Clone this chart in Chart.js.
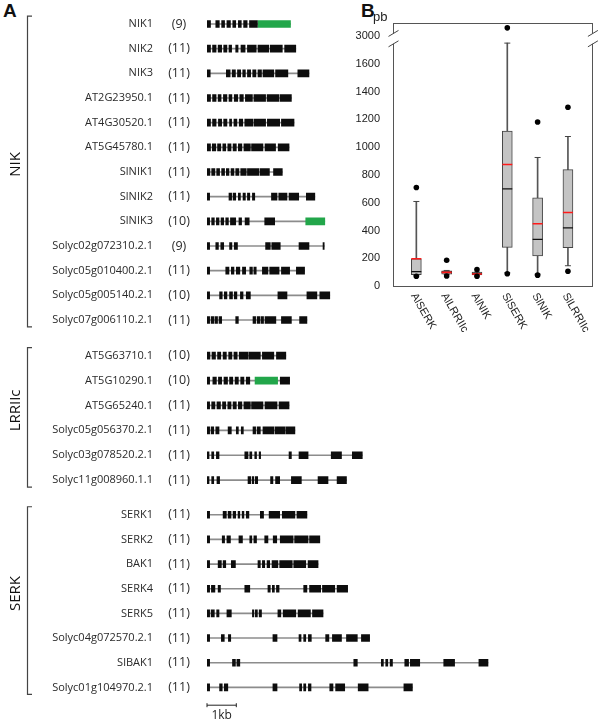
<!DOCTYPE html>
<html>
<head>
<meta charset="utf-8">
<title>Gene structure and intron length</title>
<script src="https://cdn.jsdelivr.net/npm/chart.js@4.4.1/dist/chart.umd.min.js"></script>
<style>
    body { margin: 0; background: #fff; }
    #wrap { position: relative; width: 600px; height: 721px; overflow: hidden; }
    #wrap canvas { position: absolute; }
    .panel { position: absolute; font-family: "Liberation Sans", Arial, sans-serif; font-weight: bold; font-size: 19px; color: #111; }
</style>
</head>
<body>
<div id="wrap">
    <div class="panel" style="left:3px;top:0px">A</div>
    <div class="panel" style="left:361px;top:0px">B</div>
    <canvas id="nikChart" width="500" height="340" style="left:0;top:0"></canvas>
    <canvas id="lrrChart" width="500" height="160" style="left:0;top:340px"></canvas>
    <canvas id="serkChart" width="500" height="221" style="left:0;top:500px"></canvas>
    <canvas id="boxChart" width="260" height="345" style="left:340px;top:0"></canvas>
</div>
<script>
// ---- Painel A: estrutura dos genes (exões em kb) ----
const nikNames = ['NIK1', 'NIK2', 'NIK3', 'AT2G23950.1', 'AT4G30520.1', 'AT5G45780.1', 'SlNIK1', 'SlNIK2', 'SlNIK3',
    'Solyc02g072310.2.1', 'Solyc05g010400.2.1', 'Solyc05g005140.2.1', 'Solyc07g006110.2.1'];
const nikCounts = [9, 11, 11, 11, 11, 11, 11, 11, 10, 9, 11, 10, 11];
const nikExons = [
    [[0,0.12],[0.3,0.42],[0.5,0.6],[0.68,0.8],[0.88,0.98],[1.07,1.17],[1.25,1.37],[1.45,1.72],[1.74,2.85]],
    [[0,0.12],[0.19,0.31],[0.38,0.5],[0.57,0.68],[0.75,0.84],[0.98,1.06],[1.16,1.3],[1.38,1.68],[1.74,2.11],[2.16,2.57],[2.65,3.03]],
    [[0,0.11],[0.66,0.79],[0.86,0.97],[1.04,1.15],[1.22,1.31],[1.38,1.49],[1.56,1.67],[1.74,1.86],[1.91,2.28],[2.34,2.76],[3.1,3.48]],
    [[0,0.12],[0.19,0.31],[0.38,0.48],[0.56,0.68],[0.75,0.85],[0.93,1.05],[1.12,1.24],[1.31,1.55],[1.6,2.0],[2.05,2.46],[2.5,2.88]],
    [[0,0.12],[0.19,0.31],[0.39,0.5],[0.57,0.68],[0.77,0.84],[0.92,1.02],[1.1,1.22],[1.29,1.56],[1.6,2.0],[2.06,2.48],[2.54,2.97]],
    [[0,0.12],[0.18,0.3],[0.36,0.47],[0.54,0.64],[0.71,0.82],[0.89,1.0],[1.07,1.19],[1.26,1.48],[1.52,1.91],[1.98,2.34],[2.43,2.8]],
    [[0,0.1],[0.16,0.27],[0.33,0.43],[0.5,0.6],[0.66,0.75],[0.82,0.92],[0.98,1.09],[1.15,1.34],[1.38,1.77],[1.81,2.13],[2.27,2.57]],
    [[0,0.09],[0.75,0.84],[0.89,0.98],[1.07,1.14],[1.23,1.31],[1.38,1.46],[1.55,1.63],[2.2,2.39],[2.45,2.73],[2.8,3.13],[3.39,3.68]],
    [[0,0.09],[0.16,0.25],[0.32,0.41],[0.48,0.57],[0.64,0.73],[0.8,0.98],[1.09,1.18],[1.3,1.44],[1.97,2.31],[3.37,4.02]],
    [[0,0.09],[0.3,0.39],[0.47,0.57],[0.77,0.85],[0.93,1.04],[2.0,2.16],[2.21,2.5],[3.14,3.48],[3.96,4.0]],
    [[0,0.09],[0.64,0.75],[0.83,0.92],[1.0,1.12],[1.21,1.32],[1.46,1.55],[1.6,1.68],[1.89,2.08],[2.14,2.46],[2.54,2.82],[3.05,3.33]],
    [[0,0.09],[0.43,0.52],[0.59,0.68],[0.77,0.87],[0.93,1.02],[1.14,1.23],[1.34,1.48],[2.42,2.73],[3.41,3.75],[3.85,4.19]],
    [[0,0.09],[0.14,0.23],[0.27,0.36],[0.41,0.5],[0.98,1.07],[1.57,1.66],[1.71,1.8],[1.84,1.93],[1.98,2.35],[2.54,2.88],[3.16,3.41]]
];

const lrrNames = ['AT5G63710.1', 'AT5G10290.1', 'AT5G65240.1', 'Solyc05g056370.2.1', 'Solyc03g078520.2.1', 'Solyc11g008960.1.1'];
const lrrCounts = [10, 10, 11, 11, 11, 11];
const lrrExons = [
    [[0,0.1],[0.17,0.29],[0.36,0.47],[0.55,0.66],[0.74,0.85],[0.92,1.03],[1.1,1.4],[1.43,1.82],[1.89,2.28],[2.37,2.69]],
    [[0,0.09],[0.2,0.32],[0.39,0.5],[0.58,0.7],[0.77,0.88],[0.96,1.07],[1.15,1.26],[1.34,1.46],[1.64,2.41],[2.5,2.82]],
    [[0,0.09],[0.16,0.27],[0.34,0.46],[0.53,0.64],[0.71,0.82],[0.89,1.0],[1.07,1.19],[1.26,1.48],[1.52,1.91],[1.98,2.39],[2.46,2.8]],
    [[0,0.09],[0.14,0.23],[0.3,0.41],[0.72,0.83],[1.0,1.07],[1.17,1.24],[1.57,1.66],[1.71,1.82],[1.91,2.28],[2.32,2.66],[2.69,3.0]],
    [[0,0.07],[0.16,0.23],[0.32,0.41],[1.29,1.4],[1.46,1.53],[1.63,1.69],[1.78,1.83],[2.8,2.88],[3.14,3.45],[4.24,4.59],[4.96,5.3]],
    [[0,0.07],[0.16,0.23],[0.34,0.43],[1.4,1.49],[1.54,1.6],[1.65,1.73],[2.17,2.25],[2.34,2.48],[2.88,3.22],[3.79,4.13],[4.44,4.76]]
];

const serkNames = ['SERK1', 'SERK2', 'BAK1', 'SERK4', 'SERK5', 'Solyc04g072570.2.1', 'SlBAK1', 'Solyc01g104970.2.1'];
const serkCounts = [11, 11, 11, 11, 11, 11, 11, 11];
const serkExons = [
    [[0,0.09],[0.55,0.66],[0.72,0.82],[0.89,0.98],[1.06,1.12],[1.2,1.26],[1.34,1.43],[1.82,1.93],[2.12,2.48],[2.57,3.0],[3.07,3.41]],
    [[0,0.09],[0.52,0.6],[0.68,0.8],[1.09,1.21],[1.46,1.53],[1.6,1.69],[1.97,2.08],[2.26,2.38],[2.5,2.94],[2.99,3.45],[3.5,3.85]],
    [[0,0.09],[0.38,0.49],[0.55,0.64],[0.83,0.97],[1.74,1.82],[1.89,1.97],[2.05,2.14],[2.22,2.42],[2.48,2.91],[2.96,3.37],[3.45,3.79]],
    [[0,0.09],[0.15,0.27],[0.38,0.46],[1.29,1.46],[2.08,2.16],[2.23,2.3],[2.37,2.46],[3.3,3.41],[3.5,3.88],[3.94,4.36],[4.44,4.8]],
    [[0,0.09],[0.14,0.25],[0.33,0.41],[0.68,0.83],[1.55,1.6],[1.65,1.72],[1.78,1.86],[2.42,2.52],[2.6,3.03],[3.11,3.53],[3.6,3.96]],
    [[0,0.09],[0.49,0.59],[0.73,0.81],[2.25,2.39],[3.14,3.21],[3.3,3.37],[3.46,3.56],[4.05,4.16],[4.28,4.59],[4.76,5.13],[5.27,5.55]],
    [[0,0.09],[0.87,0.97],[1.02,1.12],[5.01,5.13],[5.95,6.02],[6.1,6.17],[6.25,6.33],[6.75,6.88],[6.94,7.26],[8.08,8.45],[9.28,9.59]],
    [[0,0.09],[0.43,0.52],[0.59,0.71],[2.25,2.39],[3.16,3.23],[3.3,3.37],[3.46,3.55],[4.19,4.3],[4.39,4.7],[5.16,5.5],[6.72,7.01]]
];

// exões marcados a verde: [gene, índice do exão]
const greenExons = [['NIK1', 8], ['SlNIK3', 9], ['AT5G10290.1', 8]];

// ---- Painel B: comprimento dos intrões (pb) ----
const boxCats = ['AlSERK', 'AlLRRIIc', 'AlNIK', 'SlSERK', 'SlNIK', 'SlLRRIIc'];
const boxLow = [78, 84, 79, 95, 85, 146];
const boxQ1 = [82, 86, 79, 278, 216, 276];
const boxMedian = [103, 100, 88, 700, 336, 419];
const boxQ3 = [195, 110, 100, 1117, 635, 839];
const boxHigh = [609, 112, 100, 2950, 926, 1077];
const boxMean = [196, 98, 86, 875, 448, 530];
const boxOutliers = [[710, 70], [185, 72], [118, 70], [3060, 88], [1182, 78], [1288, 106]];
const yTickValues = [0, 200, 400, 600, 800, 1000, 1200, 1400, 1600, 3000];

const BLACK = '#0d0d0d';
const GREEN = '#22a64a';
const TEXT = '"Open Sans", "DejaVu Sans", sans-serif';
const ARIAL = '"Liberation Sans", Arial, sans-serif';

// eixo quebrado: acima de 1700 pb desloca-se 1200
function brk(v) {
    return v > 1700 ? v - 1200 : v;
}

// Função para criar um bloco de genes
function createGeneChart(id, names, counts, exons, label, pad, scaleBar) {
    const datasets = [{
        data: exons.map(g => [g[0][0], g[g.length - 1][1]]),
        backgroundColor: '#8c8c8c',
        barThickness: 1,
        grouped: false,
        order: 2
    }];
    for (let k = 0; k < 11; k++) {
        datasets.push({
            data: exons.map(g => g[k] || null),
            backgroundColor: ctx => greenExons.some(([n, e]) => n === names[ctx.dataIndex] && e === k) ? GREEN : BLACK,
            barThickness: 7,
            grouped: false,
            order: 1
        });
    }

    const labels = {
        id: 'geneLabels',
        afterDraw(chart) {
            const c = chart.ctx;
            const y = chart.scales.y;
            c.save();
            c.fillStyle = '#2a2a2a';
            c.textBaseline = 'middle';
            names.forEach((n, i) => {
                const py = y.getPixelForValue(i);
                c.font = '11px ' + TEXT;
                c.textAlign = 'right';
                c.fillText(n, 153, py);
                c.font = '12.5px ' + TEXT;
                c.textAlign = 'center';
                c.fillText('(' + counts[i] + ')', 179, py);
            });
            // chaveta do grupo
            const top = y.getPixelForValue(0) - 8;
            const bottom = y.getPixelForValue(names.length - 1) + 7;
            c.strokeStyle = '#444';
            c.lineWidth = 1.2;
            c.beginPath();
            c.moveTo(32, top);
            c.lineTo(27.5, top);
            c.lineTo(27.5, bottom);
            c.lineTo(32, bottom);
            c.stroke();
            c.translate(16, (top + bottom) / 2 - 7);
            c.rotate(-Math.PI / 2);
            c.font = '15px ' + TEXT;
            c.textAlign = 'center';
            c.fillStyle = '#111';
            c.fillText(label, 0, 0);
            c.restore();

            if (scaleBar) {
                const x = chart.scales.x;
                const x0 = x.getPixelForValue(0);
                const x1 = x.getPixelForValue(1);
                const sy = chart.chartArea.bottom + 5.5;
                c.save();
                c.strokeStyle = '#222';
                c.lineWidth = 1;
                c.beginPath();
                c.moveTo(x0, sy); c.lineTo(x1, sy);
                c.moveTo(x0, sy - 2); c.lineTo(x0, sy + 2);
                c.moveTo(x1, sy - 2); c.lineTo(x1, sy + 2);
                c.stroke();
                c.fillStyle = '#222';
                c.font = '12px ' + TEXT;
                c.textAlign = 'center';
                c.textBaseline = 'middle';
                c.fillText('1kb', (x0 + x1) / 2, sy + 10.5);
                c.restore();
            }
        }
    };

    return new Chart(document.getElementById(id), {
        type: 'bar',
        data: { labels: names, datasets: datasets },
        options: {
            indexAxis: 'y',
            responsive: false,
            animation: false,
            layout: { padding: { left: 207, right: 0, top: pad[0], bottom: pad[1] } },
            plugins: { legend: { display: false }, tooltip: { enabled: false } },
            scales: {
                x: { type: 'linear', min: 0, max: 10, display: false },
                y: { type: 'category', display: false, offset: true }
            }
        },
        plugins: [labels]
    });
}

// Função para criar o boxplot
function createBoxChart() {
    const xs = boxCats.map((c, i) => i + 1);
    const outlierPoints = [];
    boxOutliers.forEach((list, i) => list.forEach(v => outlierPoints.push({ x: i + 1, y: brk(v) })));

    const frame = {
        id: 'frame',
        afterDraw(chart) {
            const c = chart.ctx;
            const a = chart.chartArea;
            const y = chart.scales.y;
            const x = chart.scales.x;
            c.save();
            c.strokeStyle = '#555';
            c.lineWidth = 1;
            c.strokeRect(Math.round(a.left) + 0.5, Math.round(a.top) + 0.5,
                Math.round(a.right - a.left) - 1, Math.round(a.bottom - a.top));
            // marcas de quebra
            const gTop = y.getPixelForValue(1820);
            const gBot = y.getPixelForValue(1745);
            [a.left + 0.5, a.right - 0.5].forEach(ax => {
                c.fillStyle = '#fff';
                c.fillRect(ax - 2, gTop, 4, gBot - gTop);
                c.strokeStyle = '#444';
                c.beginPath();
                c.moveTo(ax - 5, gTop + 3); c.lineTo(ax + 5, gTop - 3);
                c.moveTo(ax - 5, gBot + 3); c.lineTo(ax + 5, gBot - 3);
                c.stroke();
            });
            // unidade
            c.fillStyle = '#222';
            c.font = '13px ' + ARIAL;
            c.textAlign = 'left';
            c.textBaseline = 'middle';
            c.fillText('pb', 33, 17);
            // rótulos das categorias rodados
            c.font = '11px ' + ARIAL;
            boxCats.forEach((name, i) => {
                c.save();
                c.translate(x.getPixelForValue(i + 1) - 3, a.bottom + 8);
                c.rotate(Math.PI / 3);
                c.fillText(name, 0, 0);
                c.restore();
            });
            c.restore();
        }
    };

    const lineMark = (values, color, width, radius, order) => ({
        type: 'scatter',
        data: values.map((v, i) => ({ x: i + 1, y: brk(v) })),
        pointStyle: 'line',
        pointRadius: radius,
        pointBorderColor: color,
        pointBorderWidth: width,
        pointBackgroundColor: color,
        order: order
    });

    return new Chart(document.getElementById('boxChart'), {
        type: 'bar',
        data: {
            datasets: [
                {
                    data: xs.map((x, i) => ({ x: x, y: [brk(boxLow[i]), brk(boxHigh[i])] })),
                    backgroundColor: '#555',
                    barThickness: 1,
                    grouped: false,
                    order: 6
                },
                {
                    data: xs.map((x, i) => ({ x: x, y: [boxQ1[i], boxQ3[i]] })),
                    backgroundColor: '#c4c4c4',
                    borderColor: '#444',
                    borderWidth: 1,
                    borderSkipped: false,
                    barThickness: 10,
                    grouped: false,
                    order: 5
                },
                lineMark(boxLow, '#444', 1, 3, 4),
                lineMark(boxHigh, '#444', 1, 3, 4),
                lineMark(boxMedian, '#111', 1.2, 5, 3),
                lineMark(boxMean, '#ff1a1a', 1.6, 5, 2),
                {
                    type: 'scatter',
                    data: outlierPoints,
                    pointRadius: 2.8,
                    pointBackgroundColor: '#000',
                    pointBorderColor: '#000',
                    pointBorderWidth: 0,
                    order: 1
                }
            ]
        },
        options: {
            responsive: false,
            animation: false,
            layout: { padding: { left: 0, right: 1, top: 23, bottom: 59 } },
            plugins: { legend: { display: false }, tooltip: { enabled: false } },
            scales: {
                x: { type: 'linear', min: 0.23, max: 6.84, offset: false, display: false },
                y: {
                    type: 'linear',
                    min: 0,
                    max: 1895,
                    grid: { display: false },
                    border: { display: false },
                    afterBuildTicks: scale => { scale.ticks = yTickValues.map(v => ({ value: brk(v) })); },
                    afterFit: scale => { scale.width = 53; },
                    ticks: {
                        padding: 5,
                        color: '#222',
                        font: { family: ARIAL, size: 11 },
                        callback: (value, index) => String(yTickValues[index])
                    }
                }
            }
        },
        plugins: [frame]
    });
}

window.addEventListener('DOMContentLoaded', function() {
    createGeneChart('nikChart', nikNames, nikCounts, nikExons, 'NIK', [11.7, 7.7], false);
    createGeneChart('lrrChart', lrrNames, lrrCounts, lrrExons, 'LRRIIc', [3.2, 7.4], false);
    createGeneChart('serkChart', serkNames, serkCounts, serkExons, 'SERK', [2.4, 21.3], true);
    createBoxChart();
});
</script>
</body>
</html>
